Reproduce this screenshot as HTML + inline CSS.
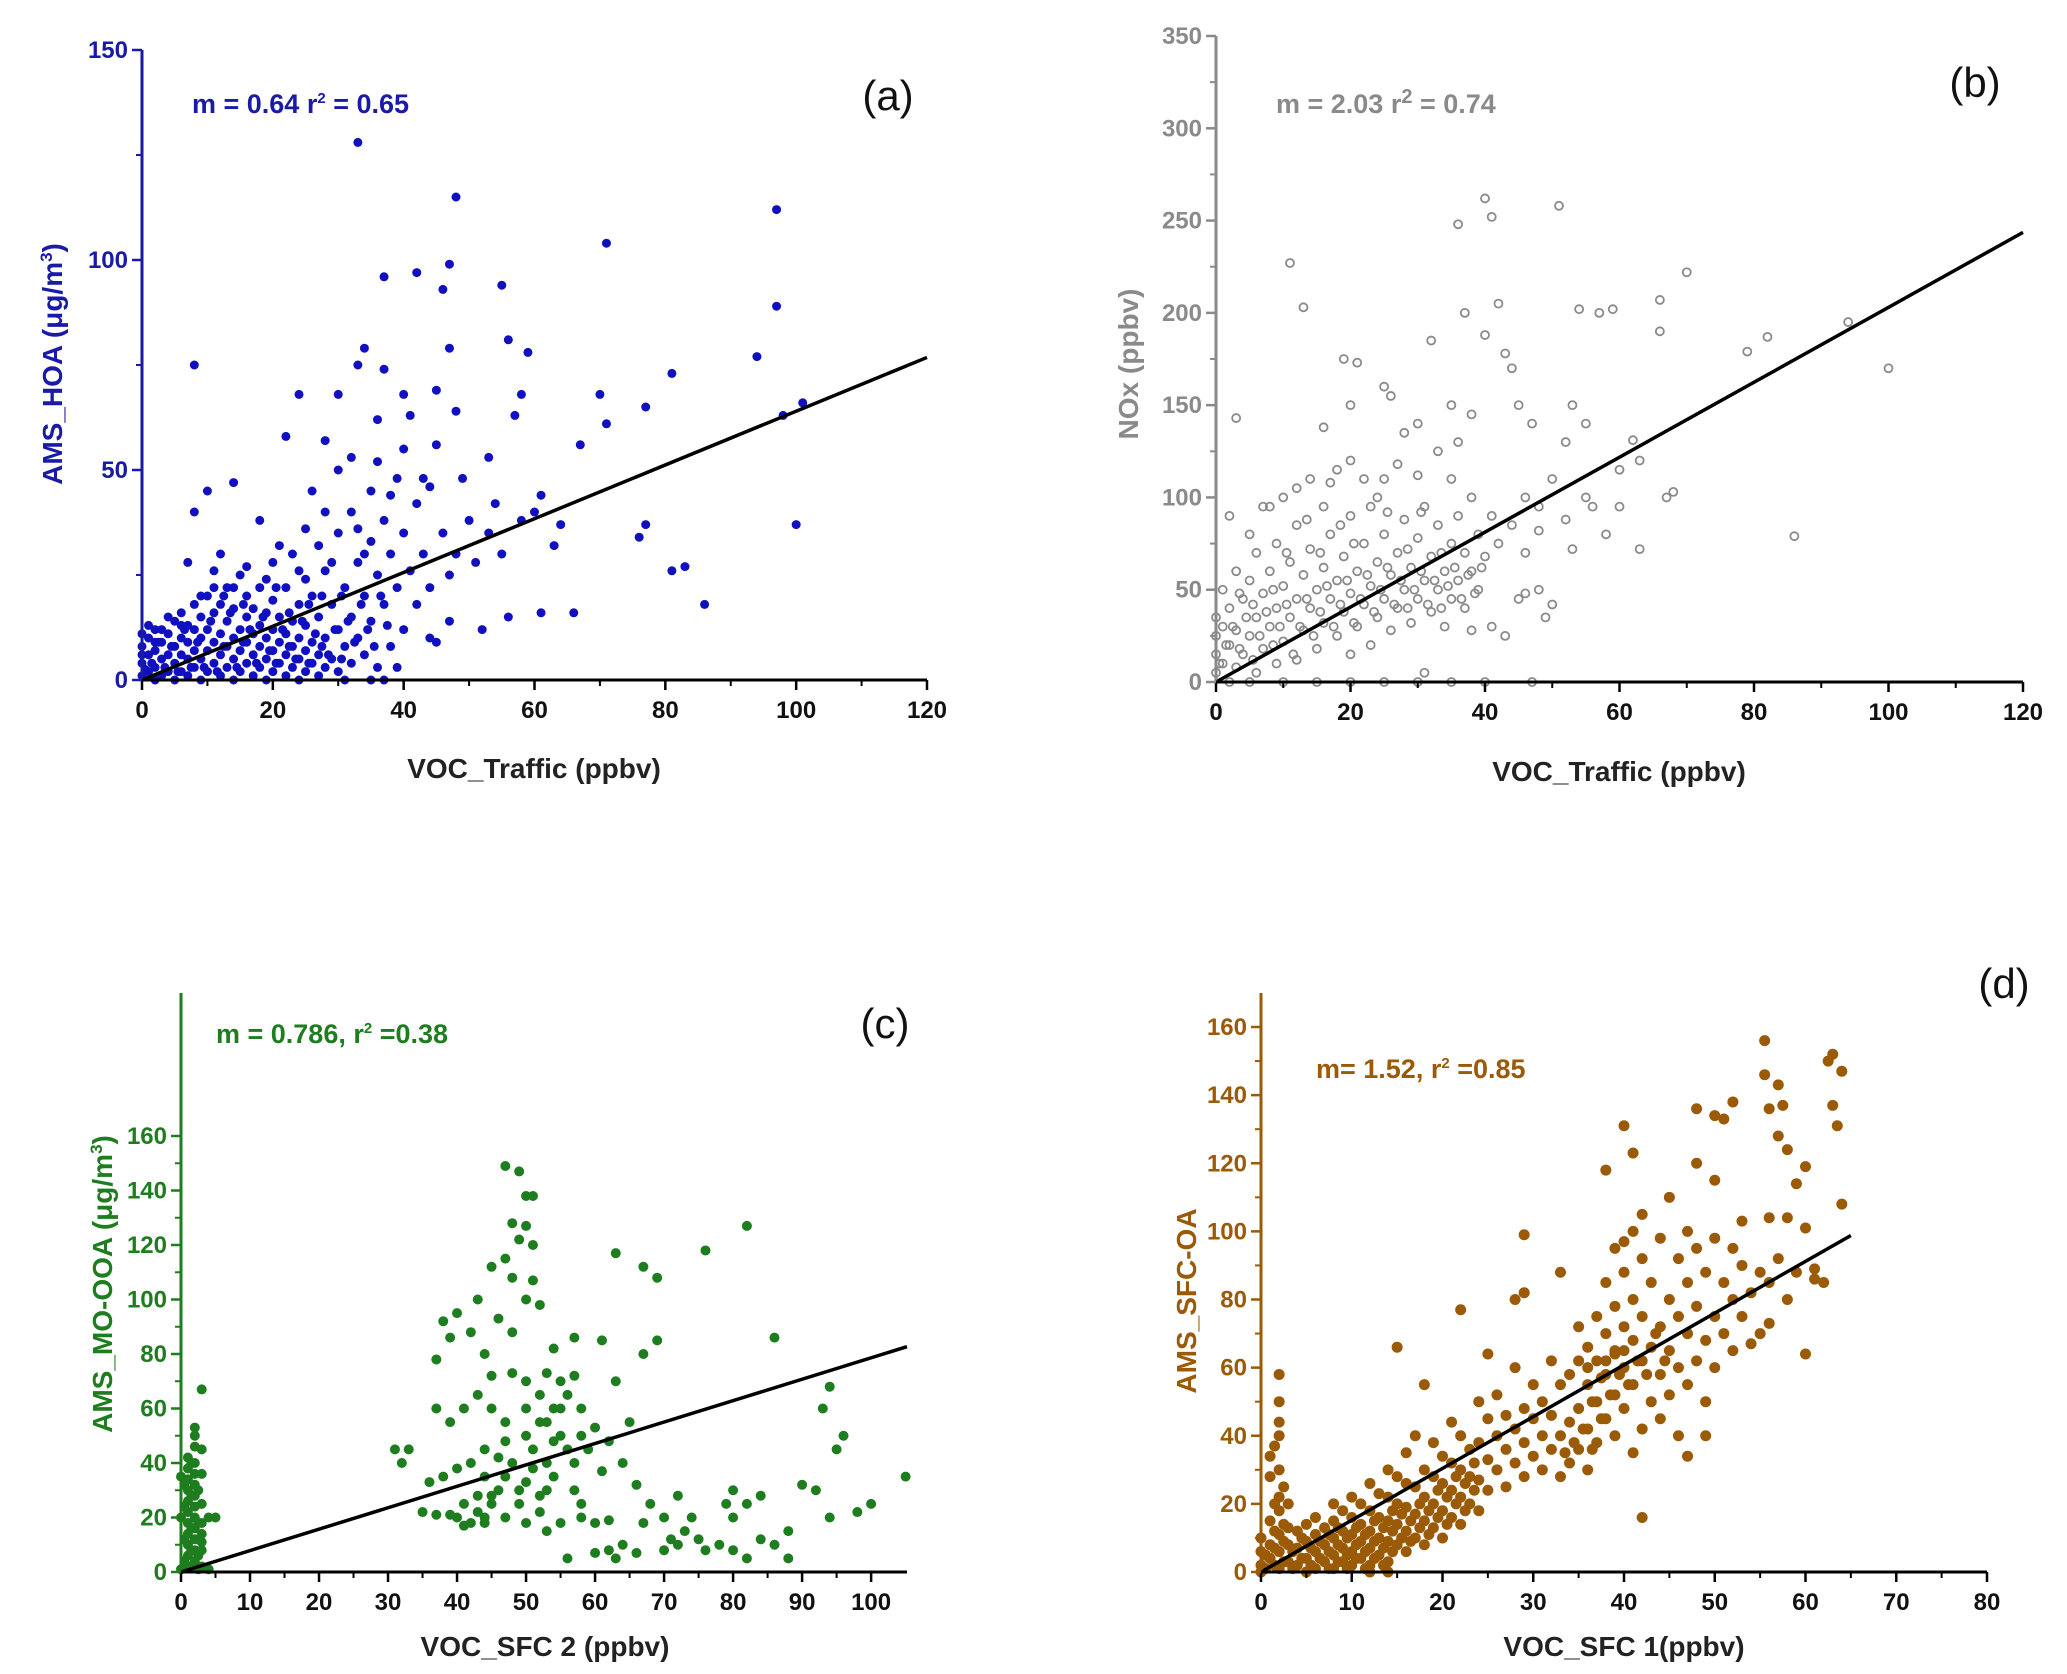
<!DOCTYPE html>
<html><head><meta charset="utf-8"><style>
html,body{margin:0;padding:0;background:#fff;}
svg{display:block;font-family:"Liberation Sans",sans-serif;}
</style></head><body>
<svg id="fig" width="2067" height="1674" viewBox="0 0 2067 1674" xmlns="http://www.w3.org/2000/svg"></svg>
<script>
const ptsA=[[33,128],[48,115],[97,112],[71,104],[47,99],[42,97],[37,96],[46,93],[55,94],[97,89],[8,75],[34,79],[47,79],[56,81],[59,78],[94,77],[33,75],[37,74],[81,73],[45,69],[70,68],[24,68],[30,68],[40,68],[58,68],[77,65],[101,66],[48,64],[71,61],[98,63],[36,62],[57,63],[41,63],[22,58],[28,57],[67,56],[53,53],[45,56],[32,53],[10,45],[14,47],[30,50],[39,48],[44,46],[49,48],[60,40],[61,44],[64,37],[77,37],[76,34],[63,32],[81,26],[83,27],[86,18],[100,37],[56,15],[61,16],[66,16],[52,12],[45,9],[47,14],[39,3],[37,0],[31,0],[35,0],
[0,1],[0,4],[0,8],[0,11],[1,2],[1,6],[1,10],[2,0],[2,3],[2,7],[2,12],[3,1],[3,5],[3,9],[4,2],[4,6],[4,11],[5,0],[5,4],[5,8],[5,14],[6,2],[6,6],[6,10],[6,16],[7,1],[7,5],[7,9],[7,13],[7,28],[8,3],[8,7],[8,12],[8,18],[9,0],[9,5],[9,10],[9,15],[10,2],[10,7],[10,12],[10,20],[11,4],[11,9],[11,16],[11,26],[12,1],[12,6],[12,11],[12,18],[13,3],[13,8],[13,14],[13,22],[14,0],[14,5],[14,10],[14,17],[15,2],[15,7],[15,12],[15,25],[16,4],[16,9],[16,15],[16,20],[17,1],[17,6],[17,11],[17,17],[18,3],[18,8],[18,13],[18,22],[19,0],[19,5],[19,10],[19,16],[20,2],[20,7],[20,12],[20,19],[20,28],[21,4],[21,9],[21,15],[22,1],[22,6],[22,11],[22,22],[23,3],[23,8],[23,14],[23,30],[24,0],[24,5],[24,10],[24,18],[25,2],[25,7],[25,13],[25,24],[26,4],[26,9],[26,20],[27,1],[27,6],[27,15],[27,32],[28,3],[28,10],[28,26],[29,5],[29,18],[30,2],[30,12],[30,35],[31,8],[31,22],[32,4],[32,15],[32,40],[33,10],[33,28],[34,6],[34,20],[35,14],[35,33],[36,3],[36,25],[37,18],[37,38],[38,8],[38,30],[39,22],[40,12],[40,35],[41,26],[42,18],[42,42],[43,30],[44,10],[44,22],[46,35],[47,25],[48,30],[50,38],[51,28],[53,35],[54,42],[55,30],[58,38],[38,44],[36,52],[40,55],[28,40],[26,45],[18,38],[8,40],[12,30],[35,45],[33,36],[43,48],[1,13],[3,12],[6,13],[9,20],[14,22],[19,24],[24,26],[29,28],[34,30],[16,27],[21,32],[25,36],[11,22],[4,15],[0,6],[2,9],
[0.5,2.5],[1.5,4],[2.5,9],[3.5,3],[4.5,8],[5.5,2],[6.5,12],[7.5,3],[8.5,9],[9.5,3],[10.5,14],[11.5,2],[12.5,8],[13.5,16],[14.5,3],[15.5,9],[16.5,12],[17.5,4],[18.5,15],[19.5,7],[20.5,4],[21.5,12],[22.5,8],[23.5,5],[24.5,14],[25.5,4],[26.5,11],[27.5,8],[28.5,6],[29.5,12],[30.5,5],[31.5,14],[32.5,9],[33.5,18],[34.5,12],[35.5,8],[36.5,20],[37.5,13],[15.5,18],[20.5,22],[25.5,18],[30.5,20],[12.5,20],[22.5,16],[27.5,20]];
const ptsB=[[40,262],[36,248],[41,252],[51,258],[11,227],[42,205],[70,222],[13,203],[37,200],[54,202],[57,200],[59,202],[66,207],[66,190],[94,195],[82,187],[79,179],[100,170],[40,188],[43,178],[32,185],[19,175],[21,173],[44,170],[20,150],[16,138],[25,160],[26,155],[30,140],[35,150],[38,145],[45,150],[47,140],[53,150],[55,140],[52,130],[62,131],[63,120],[60,115],[68,103],[67,100],[63,72],[86,79],[55,100],[50,110],[46,100],[48,95],[58,80],[53,72],[60,95],[3,143],[2,90],[45,45],[46,48],[48,50],[41,30],[49,35],[50,42],[43,25],[38,28],[47,0],[30,0],[25,0],[20,0],[15,0],[10,0],[5,0],[35,0],[40,0],[31,5],
[0,5],[0,15],[0,25],[0,35],[1,10],[1,30],[1,50],[2,0],[2,20],[2,40],[3,8],[3,28],[3,60],[4,15],[4,45],[5,25],[5,55],[6,5],[6,35],[6,70],[7,18],[7,48],[8,30],[8,60],[8,95],[9,10],[9,40],[9,75],[10,22],[10,52],[10,100],[11,35],[11,65],[12,12],[12,45],[12,85],[13,28],[13,58],[14,40],[14,72],[14,110],[15,18],[15,50],[16,32],[16,62],[16,95],[17,45],[17,80],[18,25],[18,55],[18,115],[19,38],[19,68],[20,15],[20,48],[20,90],[21,30],[21,60],[22,42],[22,75],[22,110],[23,20],[23,52],[24,35],[24,65],[24,100],[25,45],[25,80],[26,28],[26,58],[27,40],[27,70],[27,118],[28,50],[28,88],[29,32],[29,62],[30,45],[30,78],[31,55],[31,95],[32,38],[32,68],[33,50],[33,85],[34,30],[34,60],[35,45],[35,75],[35,110],[36,55],[36,90],[37,40],[37,70],[38,60],[38,100],[39,50],[39,80],[40,68],[41,90],[42,75],[44,85],[46,70],[48,82],[52,88],[56,95],[25,110],[20,120],[12,105],[30,112],[33,125],[28,135],[17,108],[23,95],[5,80],[7,95],[36,130],
[0.5,10],[1.5,20],[2.5,30],[3.5,18],[4.5,35],[5.5,12],[6.5,25],[7.5,38],[8.5,20],[9.5,30],[10.5,42],[11.5,15],[12.5,30],[13.5,45],[14.5,25],[15.5,38],[16.5,52],[17.5,30],[18.5,42],[19.5,55],[20.5,32],[21.5,45],[22.5,58],[23.5,38],[24.5,50],[25.5,62],[26.5,42],[27.5,55],[28.5,40],[29.5,50],[30.5,60],[31.5,42],[32.5,55],[33.5,40],[34.5,52],[35.5,62],[36.5,45],[37.5,58],[38.5,48],[39.5,62],[5.5,42],[10.5,70],[15.5,70],[20.5,75],[25.5,92],[30.5,92],[13.5,88],[18.5,85],[8.5,50],[3.5,48],[28.5,72],[33.5,70]];
const ptsC=[[47,149],[49,147],[50,138],[51,138],[48,128],[50,127],[49,122],[51,120],[47,115],[45,112],[48,108],[51,107],[52,98],[43,100],[46,93],[40,95],[38,92],[39,86],[42,88],[44,80],[37,78],[45,72],[48,73],[50,70],[53,73],[55,70],[57,72],[56,65],[54,60],[52,55],[50,50],[47,48],[44,45],[42,40],[40,38],[38,35],[36,33],[55,50],[58,50],[60,53],[62,48],[65,55],[63,117],[67,112],[69,108],[76,118],[82,127],[86,86],[57,86],[61,85],[63,70],[67,80],[69,85],[31,45],[32,40],[33,45],[35,22],[37,21],[40,20],[42,18],[44,20],[45,25],[47,20],[50,18],[52,22],[53,15],[55,18],[58,20],[60,18],[62,19],[46,30],[43,28],[49,30],[54,35],[57,40],[59,45],[61,37],[64,40],[66,32],[68,25],[70,20],[72,10],[73,15],[75,12],[76,8],[78,10],[80,8],[82,5],[84,12],[86,10],[88,15],[90,32],[92,30],[94,20],[95,45],[96,50],[98,22],[100,25],[105,35],[67,18],[70,8],[63,5],[66,7],[71,12],[74,20],[79,25],[80,30],[84,28],[88,5],[93,60],[94,68],[56,5],[60,7],[48,40],[51,45],[53,55],[55,60],[41,60],[43,65],[45,60],[39,55],[37,60],[47,55],[53,40],[57,30],[50,33],[44,35],[52,28],[58,25],[62,8],[64,10],[80,20],[82,25],[72,28],
[1,2],[1,6],[1,10],[1,14],[1,18],[1,22],[1,26],[1,30],[1,34],[1,38],[1,42],[2,50],[2,53],[2,46],[2,4],[2,8],[2,12],[2,16],[2,20],[2,24],[2,28],[2,32],[2,36],[3,67],[3,45],[3,14],[3,18],[3,8],[3,2],[4,20],[5,20],[3,25],[2,40],[0,1],[0,20],[0,35],
[0.5,4],[0.5,12],[0.5,24],[0.5,32],[1.5,8],[1.5,16],[1.5,28],[1.5,40],[2.5,6],[2.5,18],[2.5,30],[3,36],[3,11],[1.5,2],[2.5,1],[4,1],[45,28],[47,35],[49,25],[51,38],[53,30],[41,25],[43,22],[46,42],[54,48],[56,45],[58,60],[52,65],[50,60],[48,88],[50,100],[54,82],[44,18],[41,17],[39,21]];
const ptsD=[[55.5,156],[63,152],[62.5,150],[64,147],[55.5,146],[57,143],[40,131],[56,136],[57.5,137],[63,137],[63.5,131],[57,128],[58,124],[52,138],[50,134],[51,133],[48,136],[41,123],[38,118],[60,119],[59,114],[56,104],[58,104],[64,108],[60,101],[29,99],[33,88],[28,80],[29,82],[22,77],[15,66],[2,58],[2,50],[2,44],[2,40],[1.5,37],[1,34],[2,30],[1,28],[2,22],[2,18],[1,15],[42,16],[60,64],[49,40],[47,34],[54,67],[56,73],[61,86],[61,89],[40,97],[42,105],[45,110],[48,120],[50,115],[44,98],[47,100],[52,95],[53,103],[39,95],[41,100],
[0,2],[0,6],[0,10],[1,4],[1,8],[2,1],[2,6],[2,11],[3,3],[3,8],[3,13],[4,2],[4,7],[4,12],[5,4],[5,9],[5,14],[6,1],[6,6],[6,11],[6,16],[7,3],[7,8],[7,13],[8,1],[8,5],[8,10],[8,15],[9,3],[9,7],[9,12],[9,18],[10,2],[10,6],[10,11],[10,16],[10,22],[11,4],[11,9],[11,14],[11,20],[12,2],[12,7],[12,12],[12,18],[12,26],[13,5],[13,10],[13,16],[13,23],[14,3],[14,9],[14,15],[14,22],[14,30],[15,8],[15,14],[15,20],[15,28],[16,6],[16,12],[16,19],[16,26],[16,35],[17,10],[17,17],[17,25],[17,40],[18,8],[18,15],[18,22],[18,30],[18,55],[19,13],[19,20],[19,28],[19,38],[20,10],[20,18],[20,26],[20,34],[21,16],[21,24],[21,32],[21,44],[22,14],[22,22],[22,30],[22,40],[23,20],[23,28],[23,36],[24,18],[24,27],[24,38],[24,50],[25,24],[25,33],[25,45],[25,64],[26,30],[26,40],[26,52],[27,25],[27,36],[27,46],[28,32],[28,42],[28,60],[29,28],[29,38],[29,48],[30,34],[30,45],[30,55],[31,30],[31,40],[31,50],[32,36],[32,46],[32,62],[33,28],[33,40],[33,55],[34,32],[34,44],[34,58],[35,36],[35,48],[35,62],[35,72],[36,30],[36,42],[36,55],[36,66],[37,38],[37,50],[37,62],[37,75],[38,45],[38,58],[38,70],[38,85],[39,40],[39,52],[39,65],[39,78],[40,48],[40,60],[40,72],[40,88],[41,35],[41,55],[41,68],[41,80],[42,42],[42,62],[42,75],[42,92],[43,50],[43,66],[43,85],[44,45],[44,58],[44,72],[45,52],[45,65],[45,80],[46,40],[46,60],[46,75],[46,92],[47,55],[47,70],[47,85],[48,62],[48,78],[48,95],[49,50],[49,68],[49,88],[50,60],[50,75],[50,98],[51,70],[51,85],[52,65],[52,80],[53,75],[53,90],[54,82],[55,70],[55,88],[56,85],[57,92],[58,80],[59,88],[62,85],[38,62],[39,64],[36,60],[40,65],[12,0],[14,0],[8,20],[5,0],[0,0],
[0.5,1],[0.5,5],[1.5,2],[1.5,7],[2.5,3],[2.5,9],[3.5,1],[3.5,6],[4.5,4],[4.5,10],[5.5,2],[5.5,7],[6.5,4],[6.5,9],[7.5,1],[7.5,6],[7.5,11],[8.5,3],[8.5,8],[8.5,13],[9.5,1],[9.5,5],[9.5,10],[10.5,4],[10.5,8],[10.5,13],[11.5,1],[11.5,6],[11.5,11],[12.5,4],[12.5,9],[12.5,15],[13.5,2],[13.5,7],[13.5,13],[14.5,6],[14.5,12],[14.5,18],[15.5,10],[15.5,17],[16.5,9],[16.5,15],[17.5,13],[17.5,20],[18.5,11],[18.5,18],[19.5,16],[19.5,24],[20.5,14],[20.5,22],[21.5,20],[21.5,28],[22.5,18],[22.5,26],[23.5,24],[23.5,32],[34.5,38],[35.5,42],[36.5,36],[37.5,45],[33.5,35],[38.5,52],[39.5,58],[40.5,55],[41.5,62],[42.5,58],[43.5,70],[44.5,62],[37.5,57],[36.5,50],[1.5,20],[2.5,25],[1.5,12],[2.5,14],[3,20]];
const ticksAx=[0,20,40,60,80,100,120], ticksAy=[0,50,100,150];
const ticksBx=[0,20,40,60,80,100,120], ticksBy=[0,50,100,150,200,250,300,350];
const ticksCx=[0,10,20,30,40,50,60,70,80,90,100], ticksCy=[0,20,40,60,80,100,120,140,160];
const ticksDx=[0,10,20,30,40,50,60,70,80], ticksDy=[0,20,40,60,80,100,120,140,160];
const slopes=[0.64,2.03,0.786,1.52];

const NS="http://www.w3.org/2000/svg";
const svg=document.getElementById('fig');
function mk(tag,attrs,parent,text){const e=document.createElementNS(NS,tag);for(const k in attrs)e.setAttribute(k,attrs[k]);if(text!==undefined)e.textContent=text;(parent||svg).appendChild(e);return e;}

function panel(c){
  const g=mk('g',{});
  
  
  const sx=v=>c.x0+(v-c.xmin)/(c.xmax-c.xmin)*(c.x1-c.x0);
  const sy=v=>c.y0-(v-c.ymin)/(c.ymax-c.ymin)*(c.y0-c.y1);
  const pg=mk('g',{},g);
  
  
  c.pts.forEach(p=>{
    const ci=mk('circle',{cx:sx(p[0]),cy:sy(p[1]),r:c.r,fill:c.open?'none':c.col,stroke:c.col,'stroke-width':c.open?1.8:0},pg);
    
    
  });
  const ln=mk('line',{x1:sx(0),y1:sy(0),x2:sx(c.lx),y2:sy(c.slope*c.lx),stroke:'#000','stroke-width':3.5},g);
  
  
  const ya=mk('line',{x1:c.x0,y1:c.y0,x2:c.x0,y2:c.ytop,stroke:c.acol,'stroke-width':3},g);
  
  
  const xa=mk('line',{x1:c.x0,y1:c.y0,x2:c.x1,y2:c.y0,stroke:'#000','stroke-width':3},g);
  
  
  c.tx.forEach((t,i)=>{
    mk('line',{x1:sx(t),y1:c.y0,x2:sx(t),y2:c.y0+10,stroke:'#000','stroke-width':2.5},g);
    const lb=mk('text',{x:sx(t),y:c.y0+38,'text-anchor':'middle','font-size':24,'font-weight':'bold',fill:'#111'},g,t);
    
    
    if(i<c.tx.length-1){const m=(t+c.tx[i+1])/2;mk('line',{x1:sx(m),y1:c.y0,x2:sx(m),y2:c.y0+6,stroke:'#000','stroke-width':2},g);}
  });
  c.ty.forEach((t,i)=>{
    mk('line',{x1:c.x0,y1:sy(t),x2:c.x0-10,y2:sy(t),stroke:c.acol,'stroke-width':2.5},g);
    const lb=mk('text',{x:c.x0-14,y:sy(t)+8,'text-anchor':'end','font-size':24,'font-weight':'bold',fill:c.acol},g,t);
    
    
    if(i<c.ty.length-1){const m=(t+c.ty[i+1])/2;mk('line',{x1:c.x0,y1:sy(m),x2:c.x0-6,y2:sy(m),stroke:c.acol,'stroke-width':2},g);}
  });
  const xt=mk('text',{x:c.xtx,y:c.xty,'text-anchor':'middle','font-size':28,'font-weight':'bold',fill:'#222'},g,c.xtitle);
  
  
  const yt=mk('text',{x:0,y:0,transform:`translate(${c.ytx},${c.yty}) rotate(-90)`,'text-anchor':'middle','font-size':28,'font-weight':'bold',fill:c.acol},g);
  yt.innerHTML=c.ytitle;
  
  
  const an=mk('text',{x:c.anx,y:c.any,'font-size':27,'font-weight':'bold',fill:c.acol},g);
  an.innerHTML=c.ann;
  
  
  const pl=mk('text',{x:c.plx,y:c.ply,'text-anchor':'middle','font-size':42,fill:'#111'},g,c.label);
  
  
}
panel({name:'panel-a',pts:ptsA,col:'#1010c0',acol:'#1a1aa8',r:4.5,x0:142,x1:927,xmin:0,xmax:120,y0:680,y1:50,ymin:0,ymax:150,ytop:50,tx:ticksAx,ty:ticksAy,slope:slopes[0],lx:120,
  xtitle:'VOC_Traffic (ppbv)',xtx:534,xty:778,ytitle:'AMS_HOA (μg/m<tspan dy="-10" font-size="17">3</tspan><tspan dy="10">)</tspan>',ytx:62,yty:364,
  ann:'m = 0.64 r<tspan dy="-10" font-size="15">2</tspan><tspan dy="10"> = 0.65</tspan>',anx:192,any:113,label:'(a)',plx:888,ply:110});
panel({name:'panel-b',pts:ptsB,col:'#8a8a8a',acol:'#8a8a8a',r:4,open:true,x0:1216,x1:2023,xmin:0,xmax:120,y0:682,y1:36,ymin:0,ymax:350,ytop:36,tx:ticksBx,ty:ticksBy,slope:slopes[1],lx:120,
  xtitle:'VOC_Traffic (ppbv)',xtx:1619,xty:781,ytitle:'NOx (ppbv)',ytx:1138,yty:364,
  ann:'m = 2.03 r<tspan dy="-10" font-size="20">2</tspan><tspan dy="10"> = 0.74</tspan>',anx:1276,any:113,label:'(b)',plx:1975,ply:97});
panel({name:'panel-c',pts:ptsC,col:'#1e7d1e',acol:'#1e7d1e',r:5,x0:181,x1:907,xmin:0,xmax:105.2,y0:1572,y1:1136,ymin:0,ymax:160,ytop:993,tx:ticksCx,ty:ticksCy,slope:slopes[2],lx:105.2,
  xtitle:'VOC_SFC 2 (ppbv)',xtx:545,xty:1656,ytitle:'AMS_MO-OOA (μg/m<tspan dy="-10" font-size="17">3</tspan><tspan dy="10">)</tspan>',ytx:112,yty:1284,
  ann:'m = 0.786, r<tspan dy="-10" font-size="15">2</tspan><tspan dy="10"> =0.38</tspan>',anx:216,any:1043,label:'(c)',plx:885,ply:1038});
panel({name:'panel-d',pts:ptsD,col:'#9a5a06',acol:'#9a5a06',r:5.5,x0:1261,x1:1987,xmin:0,xmax:80,y0:1572,y1:1027,ymin:0,ymax:160,ytop:993,tx:ticksDx,ty:ticksDy,slope:slopes[3],lx:65,
  xtitle:'VOC_SFC 1(ppbv)',xtx:1624,xty:1656,ytitle:'AMS_SFC-OA',ytx:1196,yty:1301,
  ann:'m= 1.52, r<tspan dy="-10" font-size="15">2</tspan><tspan dy="10"> =0.85</tspan>',anx:1316,any:1078,label:'(d)',plx:2004,ply:998});
</script>
</body></html>
